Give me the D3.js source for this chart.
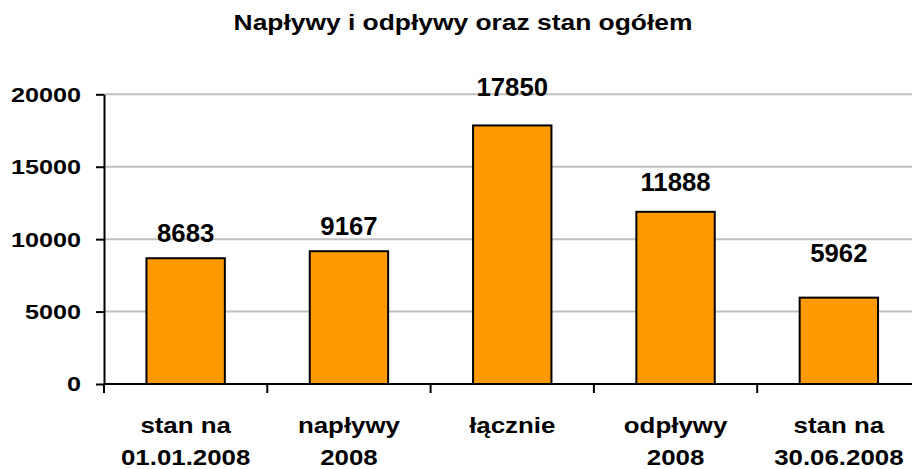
<!DOCTYPE html>
<html lang="pl">
<head>
<meta charset="UTF-8">
<title>Napływy i odpływy oraz stan ogółem</title>
<script src="https://d3js.org/d3.v7.min.js"></script>
<style>
    body { margin: 0; background: #fff; }
    svg text { font-family: "Liberation Sans", Arial, sans-serif; font-weight: bold; fill: #000; }
</style>
</head>
<body>
<div id="chart"></div>
<script>
    // data
    var categories = ["stan na|01.01.2008", "napływy|2008", "łącznie", "odpływy|2008", "stan na|30.06.2008"];
    var values = [8683, 9167, 17850, 11888, 5962];
    var yTicks = [0, 5000, 10000, 15000, 20000];
    var title = "Napływy i odpływy oraz stan ogółem";

    // label gap above each bar (labels were placed by hand in the original)
    var labelGap = [16.5, 16.5, 29, 21, 36];

    var width = 912, height = 469;
    var plotLeft = 104, plotRight = 920.5, plotTop = 94.3, plotBottom = 384;

    var svg = d3.select("#chart").append("svg")
        .attr("width", width)
        .attr("height", height);

    var x = d3.scaleBand()
        .domain(categories)
        .range([plotLeft, plotRight])
        .paddingInner(0.52)
        .paddingOuter(0.26);

    var y = d3.scaleLinear()
        .domain([0, 20000])
        .range([plotBottom, plotTop]);

    // gridlines
    svg.selectAll("line.grid")
        .data(yTicks.filter(d => d > 0))
        .enter().append("line")
        .attr("class", "grid")
        .attr("x1", plotLeft).attr("x2", width)
        .attr("y1", d => y(d)).attr("y2", d => y(d))
        .attr("stroke", "#c0c0c0")
        .attr("stroke-width", 2);

    // bars
    svg.selectAll("rect.bar")
        .data(values)
        .enter().append("rect")
        .attr("class", "bar")
        .attr("x", (d, i) => x(categories[i]))
        .attr("y", d => y(d))
        .attr("width", x.bandwidth())
        .attr("height", d => plotBottom - y(d))
        .attr("fill", "#ff9900")
        .attr("stroke", "#000")
        .attr("stroke-width", 2);

    // y axis
    var yAxis = svg.append("g")
        .attr("transform", "translate(" + plotLeft + ",0)")
        .call(d3.axisLeft(y).tickValues(yTicks).tickSize(8).tickFormat("").tickSizeOuter(0));
    yAxis.selectAll("line").attr("stroke", "#000").attr("stroke-width", 2);
    yAxis.select(".domain").attr("stroke", "#000").attr("stroke-width", 2);

    svg.selectAll("text.ytick")
        .data(yTicks)
        .enter().append("text")
        .attr("class", "ytick")
        .attr("text-anchor", "end")
        .attr("font-size", 21)
        .attr("transform", d => "translate(81," + (y(d) + 7.4) + ") scale(1.2,1)")
        .text(d => d);

    // x axis line + ticks at category boundaries
    svg.append("line")
        .attr("x1", plotLeft).attr("x2", width)
        .attr("y1", plotBottom).attr("y2", plotBottom)
        .attr("stroke", "#000").attr("stroke-width", 2);

    svg.selectAll("line.xtick")
        .data(d3.range(categories.length + 1))
        .enter().append("line")
        .attr("class", "xtick")
        .attr("x1", i => plotLeft + i * x.step())
        .attr("x2", i => plotLeft + i * x.step())
        .attr("y1", plotBottom).attr("y2", plotBottom + 9)
        .attr("stroke", "#000").attr("stroke-width", 2);

    // category labels
    var cat = svg.selectAll("g.cat")
        .data(categories)
        .enter().append("g")
        .attr("class", "cat");
    cat.each(function(d) {
        var cx = x(d) + x.bandwidth() / 2;
        d.split("|").forEach(function(line, j) {
            d3.select(this).append("text")
                .attr("text-anchor", "middle")
                .attr("font-size", 22.5)
                .attr("transform", "translate(" + cx + "," + (433.3 + j * 31.2) + ") scale(1.15,1)")
                .text(line);
        }, this);
    });

    // value labels
    svg.selectAll("text.val")
        .data(values)
        .enter().append("text")
        .attr("class", "val")
        .attr("text-anchor", "middle")
        .attr("font-size", 25)
        .attr("transform", (d, i) => "translate(" + (x(categories[i]) + x.bandwidth() / 2) + "," + (y(d) - labelGap[i]) + ") scale(1.03,1)")
        .text(d => d);

    // title
    svg.append("text")
        .attr("text-anchor", "middle")
        .attr("font-size", 22)
        .attr("transform", "translate(463,30) scale(1.2,1)")
        .text(title);
</script>
</body>
</html>
